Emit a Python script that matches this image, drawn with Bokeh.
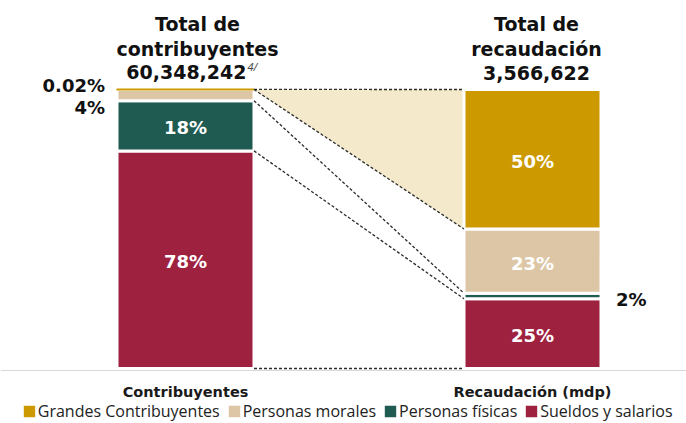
from bokeh.plotting import figure
from bokeh.models import Range1d, Span, Legend, LegendItem, ColumnDataSource
from bokeh.embed import file_html
from bokeh.resources import INLINE
from bokeh.core.properties import value

# ---------------- data ----------------
categories = ["Grandes Contribuyentes", "Personas morales", "Personas físicas", "Sueldos y salarios"]
contribuyentes_pct = [0.02, 4, 18, 78]
recaudacion_pct = [50, 23, 2, 25]
bar_names = ["Contribuyentes", "Recaudación (mdp)"]
title_contrib = ["Total de", "contribuyentes", "60,348,242"]
title_contrib_note = "4/"
title_recaud = ["Total de", "recaudación", "3,566,622"]

# ---------------- style / layout ----------------
colors = ["#CC9A00", "#DCC6A6", "#1F5B50", "#9E2140"]
FLOW_FILL = "#F5E9CC"
BOLD = "DejaVu Sans"
REG = "Open Sans"
FIG_W, FIG_H = 686, 423
BAR_PX = 347.0          # px between bar centres
X0_PX = 185.0           # left bar centre in frame px
Y0_PX = 368.0           # y=0 in frame px from top
PPU = 2.79              # px per percentage point
W = 137.0 / BAR_PX      # bar width in data units
xpos = [0, 1]

p = figure(width=FIG_W, height=FIG_H,
           x_range=Range1d(-X0_PX / BAR_PX, (FIG_W - X0_PX) / BAR_PX),
           y_range=Range1d(-(FIG_H - Y0_PX) / PPU, Y0_PX / PPU),
           output_backend="svg", toolbar_location=None,
           x_axis_location=None, y_axis_location=None,
           min_border=0, min_border_left=0, min_border_right=0,
           min_border_top=0, min_border_bottom=0)
p.outline_line_color = None
p.grid.visible = False
p.background_fill_color = "white"
p.border_fill_color = "white"


def stack(vals):
    acc = 0.0
    res = {}
    for c, v in reversed(list(zip(categories, vals))):
        res[c] = (acc, acc + v)
        acc += v
    return [res[c][0] for c in categories], [res[c][1] for c in categories]


bL, tL = stack(contribuyentes_pct)
bR, tR = stack(recaudacion_pct)

# flow area for Grandes Contribuyentes
p.patch(x=[W / 2, 1 - W / 2, 1 - W / 2, W / 2],
        y=[tL[0], tR[0], bR[0], bL[0]],
        fill_color=FLOW_FILL, line_color=None)

# bars
bar_renderers = {}
for i in reversed(range(len(categories))):
    src = ColumnDataSource(dict(x=xpos, bottom=[bL[i], bR[i]], top=[tL[i], tR[i]]))
    bar_renderers[i] = p.vbar(x="x", bottom="bottom", top="top", width=W, source=src,
                              fill_color=colors[i], line_color="white", line_width=3)

# tiny left segment shown as a line
p.vbar(x=[0], bottom=[bL[0]], top=[tL[0]], width=W,
       fill_color=colors[0], line_color=colors[0], line_width=2)

# dashed connectors between segment boundaries
left_bounds = [tL[0]] + bL
right_bounds = [tR[0]] + bR
p.segment(x0=[W / 2] * len(left_bounds), y0=left_bounds,
          x1=[1 - W / 2] * len(right_bounds), y1=right_bounds,
          line_color="#2b2b2b", line_width=1.3, line_dash="3 2")

# axis line
p.add_layout(Span(location=-2 / PPU, dimension="width",
                  line_color="#D9D9D9", line_width=1))


def fmt(v):
    return f"{v:g}%"


PCT_SIZE = "18px"
in_x, in_y, in_t = [], [], []
for bx, vals, b, t in [(0, contribuyentes_pct, bL, tL), (1, recaudacion_pct, bR, tR)]:
    k = 0
    for i, v in enumerate(vals):
        mid = (b[i] + t[i]) / 2
        if v >= 5:
            in_x.append(bx); in_y.append(mid); in_t.append(fmt(v))
        elif bx == 0:
            p.text(x=[bx - W / 2], y=[t[0]], text=[fmt(v)], x_offset=-12,
                   y_offset=-3.5 + 22 * k, text_align="right", text_baseline="middle",
                   text_font=value(BOLD), text_font_style="bold",
                   text_font_size=PCT_SIZE, text_color="#111111")
            k += 1
        else:
            p.text(x=[bx + W / 2], y=[mid], text=[fmt(v)], x_offset=15,
                   y_offset=4, text_align="left", text_baseline="middle",
                   text_font=value(BOLD), text_font_style="bold",
                   text_font_size=PCT_SIZE, text_color="#111111")
p.text(x=in_x, y=in_y, text=in_t, y_offset=2, text_align="center",
       text_baseline="middle", text_font=value(BOLD), text_font_style="bold",
       text_font_size=PCT_SIZE, text_color="white")

# titles above bars
offs = [-66, -41, -17]
for bx, lines, dx in [(0, title_contrib, 12), (1, title_recaud, 4)]:
    for j, line in enumerate(lines):
        if bx == 0 and j == 2:
            p.text(x=[bx], y=[tL[0]], text=[line], x_offset=61, y_offset=offs[j],
                   text_align="right", text_baseline="alphabetic",
                   text_font=value(BOLD), text_font_style="bold",
                   text_font_size="19px", text_color="#111111")
        else:
            p.text(x=[bx], y=[tR[0]], text=[line], x_offset=dx, y_offset=offs[j],
                   text_align="center", text_baseline="alphabetic",
                   text_font=value(BOLD), text_font_style="bold",
                   text_font_size="19px", text_color="#111111")
p.text(x=[0], y=[tL[0]], text=[title_contrib_note], x_offset=62, y_offset=-23,
       text_align="left", text_baseline="alphabetic",
       text_font=value(REG), text_font_style="italic",
       text_font_size="11px", text_color="#444444")

# category labels under the axis
p.text(x=xpos, y=[0, 0], text=bar_names, y_offset=23, text_align="center",
       text_baseline="middle", text_font=value(BOLD), text_font_style="bold",
       text_font_size="14.5px", text_color="#1a1a1a")

# legend (swatches taken from the bar renderers)
items = [LegendItem(label=c, renderers=[bar_renderers[i]]) for i, c in enumerate(categories)]
legend = Legend(items=items, orientation="horizontal", location=(19.75, 1),
                glyph_width=18, glyph_height=18, label_standoff=0, spacing=5,
                padding=0, margin=0, border_line_color=None,
                background_fill_alpha=0, label_height=18,
                label_text_font=REG, label_text_font_size="16px",
                label_text_color="#222222")
p.add_layout(legend)

open("out.html", "w").write(file_html(p, INLINE))
